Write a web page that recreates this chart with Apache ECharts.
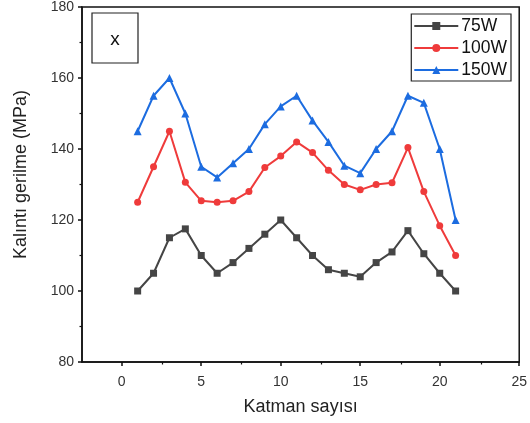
<!DOCTYPE html>
<html><head><meta charset="utf-8">
<script src="https://cdn.jsdelivr.net/npm/echarts@6/dist/echarts.min.js"></script>
<style>html,body{margin:0;padding:0;background:#fff}#c{width:530px;height:423px}</style>
</head><body><div id="c"></div>
<script>
const layers = [1,2,3,4,5,6,7,8,9,10,11,12,13,14,15,16,17,18,19,20,21];
const s75  = [100,105,115,117.5,110,105,108,112,116,120,115,110,106,105,104,108,111,117,110.5,105,100];
const s100 = [125,135,145,130.6,125.4,125,125.4,128,134.8,138,142,139,134,130,128.5,130,130.5,140.4,128,118.4,110];
const s150 = [145,155,160,150,135,132,136,140,147,152,155,148,142,135.3,133.2,140,145,155,153,140,120];
const seriesNames = ['75W','100W','150W'];
const xMajorTicks = [0,5,10,15,20,25];
const xMinorTicks = [2.5,7.5,12.5,17.5,22.5];
const panelLabel = 'x';

const colors = ['#454545','#ef3b3b','#1c6ce0'];
const symbols = ['rect','circle','triangle'];
const symSizes = [7,7,8];
const datas = [s75,s100,s150];
const font = 'Liberation Sans, Arial, sans-serif';
const gridRect = {left:82, right:9, top:7, bottom:61};

const chart = echarts.init(document.getElementById('c'), null, {renderer:'canvas'});
chart.setOption({
  animation:false,
  textStyle:{fontFamily:font},
  grid:[
    Object.assign({show:true, borderColor:'#111', borderWidth:1.5, backgroundColor:'transparent'}, gridRect),
    Object.assign({show:false}, gridRect)
  ],
  legend:{
    orient:'vertical', right:19, top:14,
    data:seriesNames,
    itemWidth:44, itemHeight:10, itemGap:4,
    borderColor:'#222', borderWidth:1.2, padding:[3,4,2,2],
    textStyle:{fontSize:17.5, color:'#111', fontFamily:font, padding:[0,0,0,-2]},
    backgroundColor:'#fff'
  },
  xAxis:[{
    gridIndex:0, type:'value', min:-2.5, max:25,
    name:'Katman sayısı', nameLocation:'middle', nameGap:36,
    nameTextStyle:{fontSize:18, color:'#222'},
    axisLine:{show:true, onZero:false, lineStyle:{color:'#111', width:1.5}},
    axisTick:{show:true, inside:false, length:4, customValues:xMajorTicks, lineStyle:{color:'#111', width:1.5}},
    axisLabel:{customValues:xMajorTicks, margin:13, fontSize:14, color:'#333'},
    splitLine:{show:false}
  },{
    gridIndex:1, type:'value', min:-2.5, max:25,
    axisLine:{show:false},
    axisTick:{show:true, inside:false, length:2.5, customValues:xMinorTicks, lineStyle:{color:'#111', width:1.2}},
    axisLabel:{show:false},
    splitLine:{show:false}
  }],
  yAxis:[{
    gridIndex:0, type:'value', min:80, max:180, interval:20,
    name:'Kalıntı gerilme (MPa)', nameLocation:'middle', nameGap:52, nameRotate:90,
    nameTextStyle:{fontSize:18, color:'#222', padding:[0,0,0,20]},
    axisLine:{show:true, onZero:false, lineStyle:{color:'#111', width:1.5}},
    axisTick:{show:true, inside:false, length:4, lineStyle:{color:'#111', width:1.5}},
    minorTick:{show:true, splitNumber:2, length:2.5, lineStyle:{color:'#111', width:1.2}},
    axisLabel:{margin:8, fontSize:14, color:'#333'},
    splitLine:{show:false}
  },{
    gridIndex:1, type:'value', min:80, max:180, show:false
  }],
  graphic:[
    {type:'rect', shape:{x:92, y:13, width:46, height:50}, style:{fill:'#fff', stroke:'#222', lineWidth:1.2}},
    {type:'text', x:115, y:40, style:{text:panelLabel, fontSize:19, fontFamily:font, fill:'#111', align:'center', verticalAlign:'middle'}}
  ],
  series: datas.map((d,i)=>({
    name:seriesNames[i], type:'line', xAxisIndex:0, yAxisIndex:0,
    data: layers.map((x,j)=>[x,d[j]]),
    symbol:symbols[i], symbolSize:symSizes[i], showSymbol:true,
    lineStyle:{color:colors[i], width:2},
    itemStyle:{color:colors[i]},
    z: 3+i
  }))
});
</script></body></html>
